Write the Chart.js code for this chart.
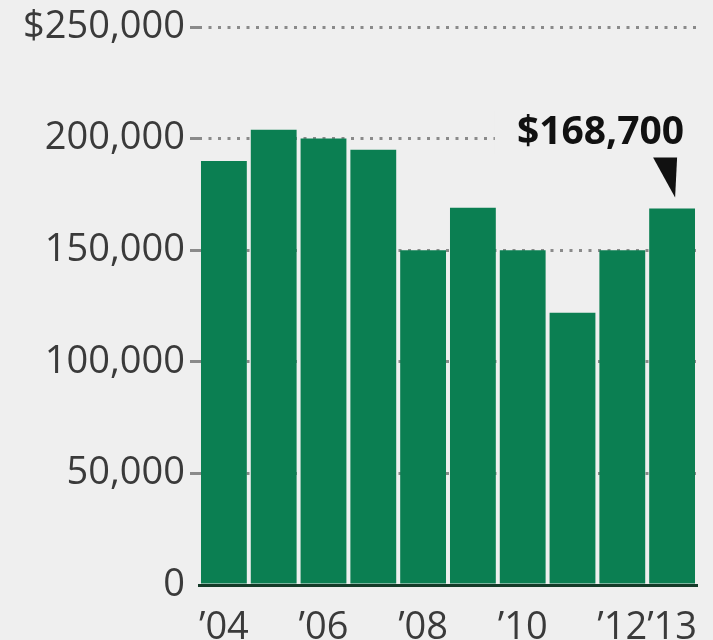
<!DOCTYPE html>
<html>
<head>
<meta charset="utf-8">
<script src="https://cdn.jsdelivr.net/npm/chart.js@4"></script>
<style>
  html, body { margin: 0; padding: 0; background: #efefef; overflow: hidden; }
  #wrap { width: 713px; height: 640px; overflow: hidden; }
</style>
</head>
<body>
<div id="wrap"><canvas id="priceChart" width="713" height="660"></canvas></div>
<script>
// === DATA ===
const years = ["’04", "’05", "’06", "’07", "’08", "’09", "’10", "’11", "’12", "’13"];
const prices = [190000, 204000, 200000, 195000, 150000, 169000, 150000, 122000, 150000, 168700];
const shownYears = ["’04", "’06", "’08", "’10", "’12", "’13"];
const yTicks = [0, 50000, 100000, 150000, 200000, 250000];
const calloutIndex = 9;

const BG = "#efefef";
const GREEN = "#0b7f52";
const labelFont = { family: "'Open Sans', sans-serif", size: 38 };

// callout above the last bar: text + black pointer
const callout = {
  id: "callout",
  afterDraw(chart) {
    const { ctx, chartArea } = chart;
    const bar = chart.getDatasetMeta(0).data[calloutIndex];
    const value = prices[calloutIndex];
    const cx = bar.x;
    const top = chart.scales.y.getPixelForValue(value);
    const text = "$" + value.toLocaleString("en-US");

    ctx.save();
    ctx.font = "bold 39px 'Open Sans', sans-serif";
    const w = ctx.measureText(text).width;
    const right = cx + 12;
    const midY = top - 76;

    // hide the grid line behind the label
    ctx.fillStyle = BG;
    ctx.fillRect(right - w - 22, midY - 22, chartArea.right - (right - w - 22) + 20, 44);

    ctx.fillStyle = "#111";
    ctx.textAlign = "right";
    ctx.textBaseline = "middle";
    ctx.fillText(text, right, midY);

    ctx.beginPath();
    ctx.moveTo(cx - 19, top - 51);
    ctx.lineTo(cx + 5, top - 51);
    ctx.lineTo(cx + 3, top - 11);
    ctx.closePath();
    ctx.fill();
    ctx.restore();
  }
};

const ctx = document.getElementById("priceChart").getContext("2d");
new Chart(ctx, {
  type: "bar",
  data: {
    labels: years,
    datasets: [{
      data: prices,
      backgroundColor: GREEN,
      borderWidth: 0,
      barPercentage: 0.92,
      categoryPercentage: 1
    }]
  },
  options: {
    responsive: false,
    animation: false,
    layout: { padding: { top: 27, right: 16, left: 0, bottom: 0 } },
    plugins: { legend: { display: false }, tooltip: { enabled: false } },
    scales: {
      x: {
        grid: { display: false, drawTicks: false },
        border: { display: true, color: "#143a28", width: 3, z: 1 },
        ticks: {
          autoSkip: false,
          maxRotation: 0,
          padding: 20,
          color: "#3a3a3a",
          font: labelFont,
          callback: (v, i) => shownYears.includes(years[i]) ? years[i] : ""
        },
        afterFit: (scale) => {
          scale.height = 75;
          scale.paddingLeft = 0;
          scale.paddingRight = 0;
        }
      },
      y: {
        min: 0,
        max: 250000,
        afterBuildTicks: (scale) => { scale.ticks = yTicks.map(v => ({ value: v })); },
        grid: {
          color: (c) => c.tick && c.tick.value === 0 ? "rgba(0,0,0,0)" : "#8a8a8a",
          lineWidth: 3,
          drawTicks: true,
          tickLength: 9
        },
        border: { display: false, dash: [3, 6.5] },
        ticks: {
          padding: 5,
          color: "#3a3a3a",
          font: labelFont,
          callback: (v) => (v === 250000 ? "$" : "") + v.toLocaleString("en-US")
        },
        afterFit: (scale) => {
          scale.width = 199;
          scale.paddingTop = 0;
          scale.paddingBottom = 0;
        }
      }
    }
  },
  plugins: [callout]
});
</script>
</body>
</html>
